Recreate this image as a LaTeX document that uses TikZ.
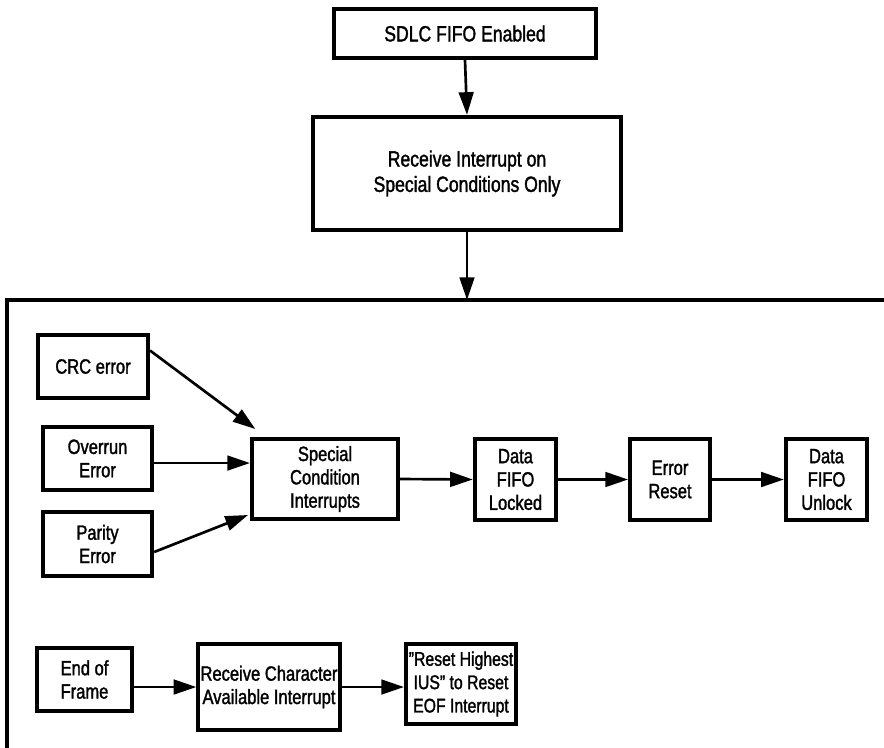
\documentclass[tikz,border=0pt]{standalone}
\usepackage{fontspec}
\setmainfont{Liberation Sans}[FakeStretch=0.8, FakeBold=1.5]
\usepackage{tikz}
\usetikzlibrary{arrows.meta, positioning}

\begin{document}
\begin{tikzpicture}[x=0.75pt, y=-0.75pt,
    box/.style={rectangle, draw, line width=3pt, align=center, inner sep=0pt, font=\fontsize{15.5}{17.5}\selectfont},
    topbox/.style={box, font=\fontsize{16.5}{19}\selectfont},
    arrow/.style={-{Triangle[length=17pt, width=11pt]}, line width=2pt},
    frame/.style={line width=2.6pt}
]
    \useasboundingbox (0,0) rectangle (884,747);

    \node[topbox, minimum width=196pt, minimum height=37pt] (enabled) at (465,33.5) {SDLC FIFO Enabled};
    \node[topbox, minimum width=231pt, minimum height=85pt] (rxint) at (467,173.5) {Receive Interrupt on \\ Special Conditions Only};

    \draw[frame] (890,300) -- (7,300) -- (7,760);
    \coordinate (frametop) at (467,300);

    \node[box, minimum width=82.5pt, minimum height=47pt] (crc) at (93,366.5) {CRC error};
    \node[box, minimum width=82pt, minimum height=47pt] (overrun) at (97.5,458.5) {Overrun \\ Error};
    \node[box, minimum width=82pt, minimum height=48pt] (parity) at (97.5,544) {Parity \\ Error};
    \node[box, minimum width=109.5pt, minimum height=60pt] (special) at (325,479) {Special \\ Condition \\ Interrupts};
    \node[box, minimum width=61pt, minimum height=61pt] (locked) at (515.5,479.5) {Data \\ FIFO \\ Locked};
    \node[box, minimum width=60pt, minimum height=61pt] (errreset) at (670,479.5) {Error \\ Reset};
    \node[box, minimum width=61pt, minimum height=61pt] (unlock) at (826.5,479.5) {Data \\ FIFO \\ Unlock};

    \node[box, minimum width=71pt, minimum height=47pt] (eof) at (84.5,679.5) {End of \\ Frame};
    \node[box, minimum width=106pt, minimum height=64.5pt] (rxchar) at (269,687) {Receive Character \\ Available Interrupt};
    \node[box, minimum width=82.5pt, minimum height=60pt, font=\fontsize{14.8}{17.5}\selectfont] (resethi) at (461,684) {\symbol{34}Reset Highest \\ IUS\symbol{34} to Reset \\ EOF Interrupt};

    \draw[arrow] (enabled.south) -- (rxint.north);
    \draw[arrow] (rxint.south) -- (frametop);

    \draw[arrow] ([yshift=12pt]crc.east) -- ([shift={(4pt,6pt)}]special.north west);
    \draw[arrow] ([yshift=-3.4pt]overrun.east) -- ([yshift=-3.4pt]overrun.east -| special.west);
    \draw[arrow] ([yshift=-6pt]parity.east) -- ([shift={(-1.5pt,4.5pt)}]special.south west);
    \draw[arrow] (special.east) -- (locked.west);
    \draw[arrow] (locked.east) -- (errreset.west);
    \draw[arrow] (errreset.east) -- (unlock.west);

    \draw[arrow] (eof.east |- rxchar.west) -- (rxchar.west);
    \draw[arrow] (rxchar.east) -- (rxchar.east -| resethi.west);
\end{tikzpicture}
\end{document}
